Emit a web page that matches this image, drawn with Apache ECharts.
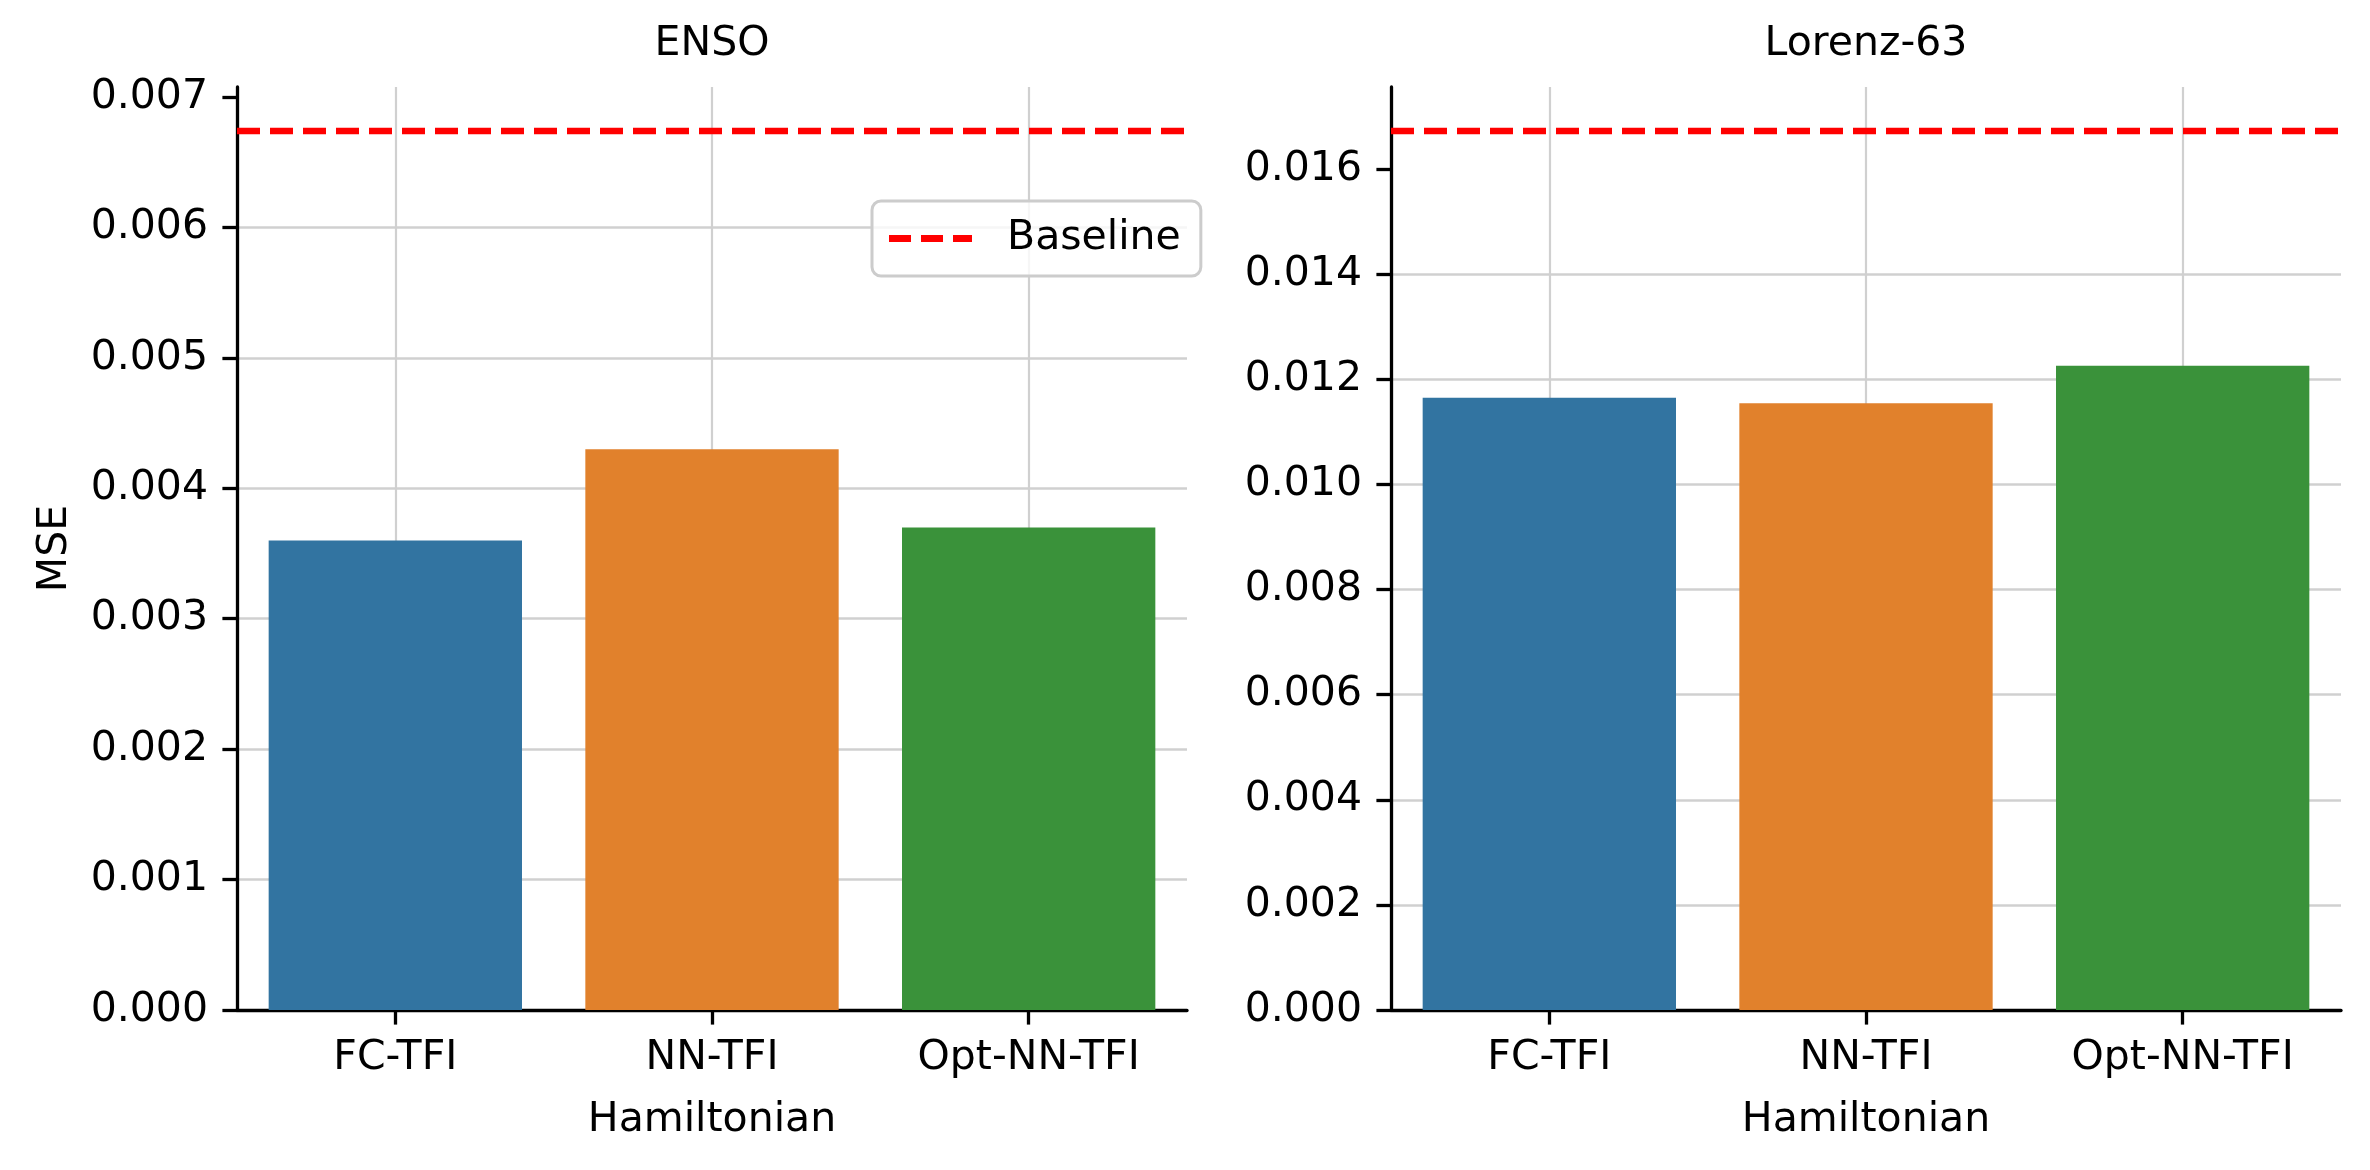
<!DOCTYPE html>
<html>
<head>
<meta charset="utf-8">
<script src="https://cdn.jsdelivr.net/npm/echarts@6/dist/echarts.min.js"></script>
<style>
html,body{margin:0;padding:0;background:#fff;}
#chart{width:2370px;height:1170px;}
</style>
</head>
<body>
<div id="chart"></div>
<script>
// ---- data ----
const categories = ['FC-TFI', 'NN-TFI', 'Opt-NN-TFI'];
const panelTitles = ['ENSO', 'Lorenz-63'];
const ensoMSE = [0.0036, 0.0043, 0.0037];
const lorenzMSE = [0.01165, 0.01155, 0.01226];
const ensoBaseline = 0.00674;
const lorenzBaseline = 0.01673;
const ensoTicks = [0, 0.001, 0.002, 0.003, 0.004, 0.005, 0.006, 0.007];
const lorenzTicks = [0, 0.002, 0.004, 0.006, 0.008, 0.010, 0.012, 0.014, 0.016];
const xAxisName = 'Hamiltonian';
const yAxisName = 'MSE';
const legendName = 'Baseline';
const spanEnds = ['start', 'end'];   // horizontal line runs across the whole panel

// ---- style ----
const palette = ['#3274a1', '#e1812c', '#3a923a'];
const FONT = 'DejaVu Sans';
const FS = 41;
const gridColor = '#d0d0d0';
const lw = 3.3;
const baseStyle = {color: '#ff0000', width: 6.5, type: [23, 10]};

const chart = echarts.init(document.getElementById('chart'), null, {renderer: 'canvas'});

function yAxisCfg(gridIndex, ticks, interval, max, name) {
  return {
    type: 'value', gridIndex: gridIndex, min: 0, max: max, interval: interval,
    name: name, nameLocation: 'middle', nameRotate: 90, nameGap: 161,
    nameTextStyle: {fontFamily: FONT, fontSize: FS, color: '#000'},
    axisLine: {show: true, lineStyle: {color: '#000', width: lw}},
    axisTick: {show: true, length: 14.6, lineStyle: {color: '#000', width: lw}, customValues: ticks},
    axisLabel: {show: true, margin: 29, fontFamily: FONT, fontSize: FS, color: '#000',
      customValues: ticks, formatter: v => v.toFixed(3)},
    splitLine: {show: true, showMinLine: true, showMaxLine: false, lineStyle: {color: gridColor, width: 2.7}}
  };
}
function xAxisCfg(gridIndex) {
  return {
    type: 'category', gridIndex: gridIndex, data: categories,
    name: xAxisName, nameLocation: 'middle', nameGap: 90,
    nameTextStyle: {fontFamily: FONT, fontSize: FS, color: '#000'},
    axisLine: {show: true, lineStyle: {color: '#000', width: lw}},
    axisTick: {show: true, alignWithLabel: true, length: 14.6, lineStyle: {color: '#000', width: lw}},
    axisLabel: {margin: 28, fontFamily: FONT, fontSize: FS, color: '#000'},
    splitLine: {show: true, alignWithLabel: true, lineStyle: {color: gridColor, width: 2.2}}
  };
}
function spanAxisCfg(gridIndex) {
  return {
    type: 'category', gridIndex: gridIndex, data: spanEnds, boundaryGap: false,
    show: false, axisLine: {show: false}, axisTick: {show: false},
    axisLabel: {show: false}, splitLine: {show: false}
  };
}
function barSeries(idx, values) {
  return {
    type: 'bar', xAxisIndex: idx, yAxisIndex: idx,
    data: values.map((v, i) => ({value: v, itemStyle: {color: palette[i]}})),
    barCategoryGap: '20%', z: 3
  };
}
function baselineSeries(idx, baseline) {
  return {
    type: 'line', name: legendName, xAxisIndex: idx + 2, yAxisIndex: idx,
    data: spanEnds.map(() => baseline), showSymbol: false, symbol: 'none', z: 5,
    silent: true,
    lineStyle: baseStyle, itemStyle: {color: '#ff0000'}
  };
}

const option = {
  backgroundColor: '#ffffff',
  animation: false,
  title: [
    {text: panelTitles[0], left: 712, top: 24, textAlign: 'center', padding: 0,
      textStyle: {fontFamily: FONT, fontSize: FS, fontWeight: 'normal', color: '#000'}},
    {text: panelTitles[1], left: 1866, top: 24, textAlign: 'center', padding: 0,
      textStyle: {fontFamily: FONT, fontSize: FS, fontWeight: 'normal', color: '#000'}}
  ],
  grid: [
    {left: 237, top: 87, width: 950, height: 923, containLabel: false, outerBoundsMode: 'none'},
    {left: 1391, top: 87, width: 950, height: 923, containLabel: false, outerBoundsMode: 'none'}
  ],
  xAxis: [xAxisCfg(0), xAxisCfg(1), spanAxisCfg(0), spanAxisCfg(1)],
  yAxis: [
    yAxisCfg(0, ensoTicks, 0.001, ensoBaseline * 1.05, yAxisName),
    yAxisCfg(1, lorenzTicks, 0.002, lorenzBaseline * 1.05, '')
  ],
  legend: {
    show: true, left: 872, top: 201, orient: 'vertical',
    padding: [17, 20, 17, 17],
    backgroundColor: 'rgba(255,255,255,0.8)',
    borderColor: '#cccccc', borderWidth: 3, borderRadius: 9,
    itemWidth: 83, itemHeight: 7, z: 10,
    textStyle: {fontFamily: FONT, fontSize: FS, color: '#000', padding: [0, 0, 0, 30]},
    data: [{name: legendName, icon: 'path://M0,0H22V7H0Z M32,0H54V7H32Z M64,0H83V7H64Z',
      itemStyle: {color: '#ff0000'}}]
  },
  series: [
    barSeries(0, ensoMSE),
    barSeries(1, lorenzMSE),
    baselineSeries(0, ensoBaseline),
    baselineSeries(1, lorenzBaseline)
  ]
};
chart.setOption(option);
</script>
</body>
</html>
